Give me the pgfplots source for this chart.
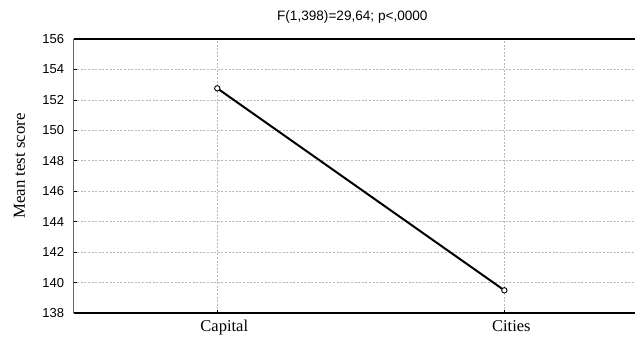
\documentclass[border=0pt]{standalone}
\usepackage{fontspec}
\setmainfont{Liberation Serif}
\newfontfamily\arial{Liberation Sans}
\usepackage{pgfplots}
\pgfplotsset{compat=1.18}
\begin{document}
\begin{tikzpicture}
\begin{axis}[
  scale only axis,
  width=561.3bp, height=274bp,
  xmin=-0.5, xmax=1.455,
  ymin=138, ymax=156,
  xtick={0,1}, xticklabels={Capital,Cities},
  ytick={138,140,...,156},
  /pgf/number format/assume math mode=true,
  yticklabel style={font=\arial\fontsize{13bp}{15bp}\selectfont, anchor=east, inner sep=0pt, xshift=-9.5bp},
  xticklabel style={font=\fontsize{16.5bp}{18bp}\selectfont, anchor=base, inner sep=0pt, yshift=-18bp, xshift=7bp},
  axis line style={draw=none},
  xtick pos=lower, ytick pos=left,
  tick align=inside,
  major tick length=3bp,
  tick style={black, line width=0.7bp},
  grid=major,
  major grid style={color=black!28, line width=0.7bp, dash pattern=on 2bp off 1.6bp},
  clip=false,
]
\draw[black!60, line width=1.4bp] (rel axis cs:0,0) -- (rel axis cs:0,1);
\draw[black, line width=1.6bp] (rel axis cs:0,1) -- (rel axis cs:1,1);
\draw[black, line width=1.6bp] (rel axis cs:0,0) -- (rel axis cs:1,0);
\addplot[black, line width=2bp, mark=*, mark options={fill=white, line width=0.9bp}, mark size=2.7bp]
  coordinates {(0,152.76) (1,139.49)};
\node[font=\arial\fontsize{13.6bp}{15bp}\selectfont, anchor=base] at ([xshift=-2bp,yshift=18.3bp]rel axis cs:0.5,1) {F(1,398)=29,64; p<,0000};
\node[font=\fontsize{16.8bp}{18bp}\selectfont, rotate=90, anchor=base] at ([xshift=-48.7bp]rel axis cs:0,0.536) {Mean test score};
\coordinate (bl) at (rel axis cs:0,0);
\coordinate (tr) at (rel axis cs:1,1);
\end{axis}
\pgfresetboundingbox
\path[use as bounding box] ([shift={(-73.7bp,-25bp)}]bl) rectangle ([shift={(0bp,39bp)}]tr);
\end{tikzpicture}
\end{document}
